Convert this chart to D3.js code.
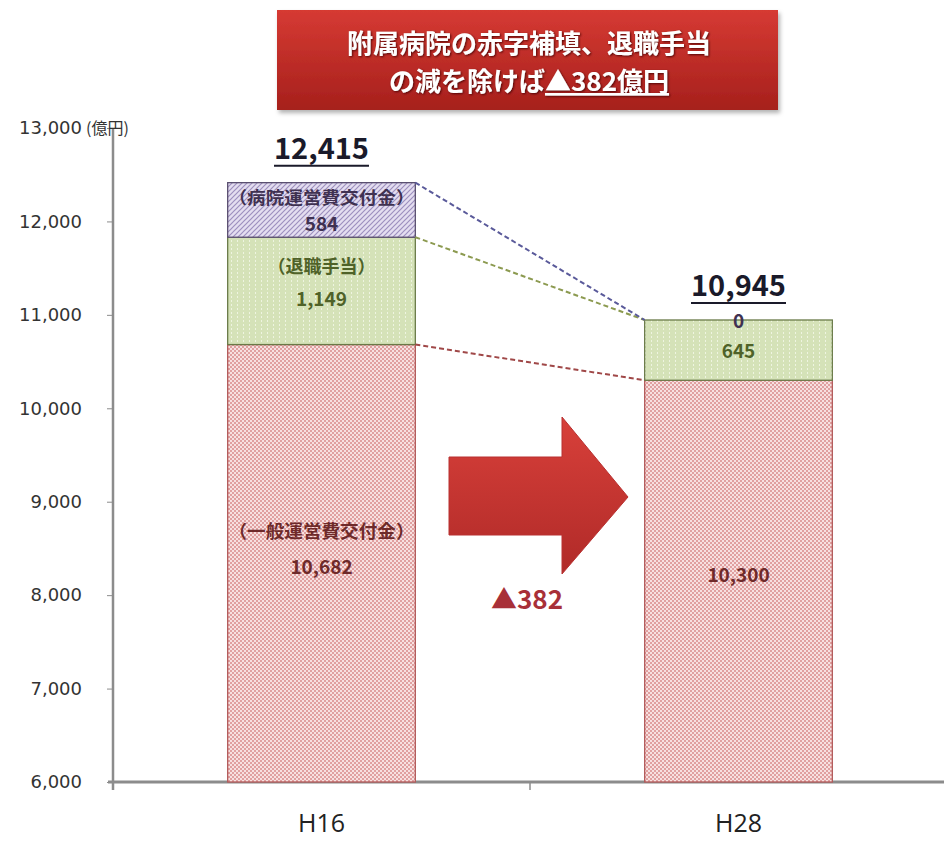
<!DOCTYPE html>
<html><head><meta charset="utf-8">
<script src="https://cdn.jsdelivr.net/npm/d3@7"></script>
<style>body{margin:0;background:#fff}svg{display:block}</style>
</head><body>
<script>
const categories = ["H16", "H28"];
const seriesNames = ["（一般運営費交付金）", "（退職手当）", "（病院運営費交付金）"];
const general = [10682, 10300];
const retirement = [1149, 645];
const hospital = [584, 0];
const totals = [12415, 10945];
const yTicks = [6000, 7000, 8000, 9000, 10000, 11000, 12000, 13000];
const unitLabel = "(億円)";
const titleLines = ["附属病院の赤字補填、退職手当", "の減を除けば", "▲382億円"];
const changeLabel = "▲382";

const W = 944, H = 841;
const svg = d3.select("body").append("svg").attr("width", W).attr("height", H);
const jp = "'Noto Sans CJK JP', 'Noto Sans', sans-serif";

const y = d3.scaleLinear().domain([6000, 13000]).range([782, 128]);
const x = d3.scaleBand().domain(categories).range([113, 947]).paddingInner(0).paddingOuter(0);
const barW = x.bandwidth() * 0.45;
const bx = c => x(c) + (x.bandwidth() - barW) / 2;

const defs = svg.append("defs");
const p1 = defs.append("pattern").attr("id", "pGen").attr("width", 4).attr("height", 4).attr("patternUnits", "userSpaceOnUse");
p1.append("rect").attr("width", 4).attr("height", 4).attr("fill", "#f7e0e0");
p1.append("rect").attr("x", 0).attr("y", 0).attr("width", 2).attr("height", 2).attr("fill", "#e0a0a0");
p1.append("rect").attr("x", 2).attr("y", 2).attr("width", 2).attr("height", 2).attr("fill", "#e0a0a0");
const p2 = defs.append("pattern").attr("id", "pRet").attr("width", 6).attr("height", 4).attr("patternUnits", "userSpaceOnUse");
p2.append("rect").attr("width", 6).attr("height", 4).attr("fill", "#d5e2b8");
p2.append("rect").attr("x", 3).attr("y", 0).attr("width", 1).attr("height", 2).attr("fill", "#eef4e0");
const p3 = defs.append("pattern").attr("id", "pHos").attr("width", 5).attr("height", 5).attr("patternUnits", "userSpaceOnUse");
p3.append("rect").attr("width", 5).attr("height", 5).attr("fill", "#e4def0");
p3.append("path").attr("d", "M-1,6 L6,-1 M-1,1 L1,-1 M4,6 L6,4").attr("stroke", "#9d8fbf").attr("stroke-width", 1.2);

const g1 = defs.append("linearGradient").attr("id", "gTitle").attr("x1", 0).attr("y1", 0).attr("x2", 0).attr("y2", 1);
g1.append("stop").attr("offset", "0%").attr("stop-color", "#d63a33");
g1.append("stop").attr("offset", "100%").attr("stop-color", "#a6201c");
const g2 = defs.append("linearGradient").attr("id", "gArrow").attr("x1", 0).attr("y1", 0).attr("x2", 0).attr("y2", 1);
g2.append("stop").attr("offset", "0%").attr("stop-color", "#d8403a");
g2.append("stop").attr("offset", "100%").attr("stop-color", "#b02a28");
const sh = defs.append("filter").attr("id", "shadow").attr("x", -0.1).attr("y", -0.1).attr("width", 1.2).attr("height", 1.3);
sh.append("feDropShadow").attr("dx", 2).attr("dy", 3).attr("stdDeviation", 2).attr("flood-color", "#000").attr("flood-opacity", 0.3);
const ts = defs.append("filter").attr("id", "tshadow");
ts.append("feDropShadow").attr("dx", 1).attr("dy", 1).attr("stdDeviation", 0.8).attr("flood-color", "#400").attr("flood-opacity", 0.9);

// title box
svg.append("rect").attr("x", 277).attr("y", 10).attr("width", 501).attr("height", 100)
  .attr("fill", "url(#gTitle)").attr("filter", "url(#shadow)");
const tt = svg.append("g").attr("font-family", jp).attr("font-weight", "bold").attr("font-size", 26)
  .attr("fill", "#fff").attr("text-anchor", "middle").attr("filter", "url(#tshadow)");
tt.append("text").attr("x", 529).attr("y", 53).text(titleLines[0]);
const t2 = tt.append("text").attr("x", 529).attr("y", 91);
t2.append("tspan").text(titleLines[1]);
t2.append("tspan").attr("text-decoration", "underline").text(titleLines[2]);

// axes
const yAxis = d3.axisLeft(y).tickValues(yTicks).tickSize(6).tickFormat(d3.format(","));
const ya = svg.append("g").attr("transform", "translate(113,0)").call(yAxis);
ya.select(".domain").attr("stroke", "#8c8c8c").attr("stroke-width", 2.5).attr("d", "M0,128V790");
ya.selectAll(".tick line").attr("stroke", "#8c8c8c");
ya.selectAll(".tick text").attr("font-family", "'DejaVu Sans', sans-serif").attr("font-size", 18).attr("fill", "#333").attr("x", -31);
svg.append("text").attr("x", 86).attr("y", 134).attr("font-family", jp).attr("font-size", 16).attr("fill", "#333").text(unitLabel);

const xAxis = d3.axisBottom(x).tickSize(0).tickPadding(32);
const xa = svg.append("g").attr("transform", "translate(0,782)").call(xAxis);
xa.select(".domain").attr("stroke", "#8c8c8c").attr("stroke-width", 3).attr("d", "M108,0H947");
xa.selectAll(".tick text").attr("font-family", "'Open Sans', sans-serif").attr("font-size", 25).attr("fill", "#222");
[113, x("H28"), 947].forEach(px => xa.append("line").attr("x1", px).attr("x2", px).attr("y1", 0).attr("y2", 8).attr("stroke", "#8c8c8c").attr("stroke-width", 1.5));

// bars
const segs = [];
categories.forEach((c, i) => {
  segs.push({c, i, k: 0, y0: 6000, y1: general[i], fill: "url(#pGen)", stroke: "#b35a5a"});
  segs.push({c, i, k: 1, y0: general[i], y1: general[i] + retirement[i], fill: "url(#pRet)", stroke: "#6a7a48"});
  segs.push({c, i, k: 2, y0: general[i] + retirement[i], y1: general[i] + retirement[i] + hospital[i], fill: "url(#pHos)", stroke: "#5a4f70"});
});
svg.append("g").selectAll("rect").data(segs.filter(s => s.y1 > s.y0)).join("rect")
  .attr("x", d => bx(d.c)).attr("width", barW)
  .attr("y", d => y(d.y1)).attr("height", d => y(d.y0) - y(d.y1))
  .attr("fill", d => d.fill).attr("stroke", d => d.stroke).attr("stroke-width", 1.3);

// connector dashed lines
const connColors = ["#a04848", "#8c9a50", "#5a5a9a"];
const cum0 = [general[0], general[0] + retirement[0], totals[0]];
const cum1 = [general[1], general[1] + retirement[1], totals[1]];
cum0.forEach((v, k) => {
  svg.append("line").attr("x1", bx("H16") + barW).attr("y1", y(v))
    .attr("x2", bx("H28")).attr("y2", y(cum1[k]))
    .attr("stroke", connColors[k]).attr("stroke-width", 2).attr("stroke-dasharray", "5,3");
});

// segment labels
const labColors = ["#6e2a2a", "#4f6228", "#3f3151"];
const lab = svg.append("g").attr("font-family", jp).attr("font-weight", "bold").attr("text-anchor", "middle");
const fmt = d3.format(",");
const cx0 = bx("H16") + barW / 2, cx1 = bx("H28") + barW / 2;
const m0 = (6000 + general[0]) / 2;
lab.append("text").attr("x", cx0).attr("y", y(m0) - 25).attr("font-size", 18).attr("fill", labColors[0]).attr("textLength", 186).attr("lengthAdjust", "spacingAndGlyphs").text(seriesNames[0]);
lab.append("text").attr("x", cx0).attr("y", y(m0) + 11).attr("font-size", 19).attr("fill", labColors[0]).text(fmt(general[0]));
const m1 = general[0] + retirement[0] / 2;
lab.append("text").attr("x", cx0).attr("y", y(m1) - 18).attr("font-size", 18).attr("fill", labColors[1]).text(seriesNames[1]);
lab.append("text").attr("x", cx0).attr("y", y(m1) + 15).attr("font-size", 19).attr("fill", labColors[1]).text(fmt(retirement[0]));
const m2 = general[0] + retirement[0] + hospital[0] / 2;
lab.append("text").attr("x", cx0).attr("y", y(m2) - 6).attr("font-size", 17).attr("fill", labColors[2]).attr("textLength", 186).attr("lengthAdjust", "spacingAndGlyphs").text(seriesNames[2]);
lab.append("text").attr("x", cx0).attr("y", y(m2) + 21).attr("font-size", 19).attr("fill", labColors[2]).text(fmt(hospital[0]));
lab.append("text").attr("x", cx1).attr("y", y((6000 + general[1]) / 2) + 1).attr("font-size", 19).attr("fill", labColors[0]).text(fmt(general[1]));
lab.append("text").attr("x", cx1).attr("y", y(general[1] + retirement[1] / 2) + 8).attr("font-size", 19).attr("fill", labColors[1]).text(fmt(retirement[1]));
lab.append("text").attr("x", cx1).attr("y", y(totals[1]) + 8).attr("font-size", 19).attr("fill", labColors[2]).text(fmt(hospital[1]));

// totals
categories.forEach((c, i) => {
  const cx = bx(c) + barW / 2;
  const t = svg.append("text").attr("x", cx).attr("y", y(totals[i]) - 24)
    .attr("font-family", jp).attr("font-weight", "bold").attr("font-size", 29)
    .attr("fill", "#1a1a2a").attr("text-anchor", "middle").text(fmt(totals[i]));
  const bb = t.node().getBBox();
  svg.append("line").attr("x1", bb.x).attr("x2", bb.x + bb.width).attr("y1", y(totals[i]) - 17).attr("y2", y(totals[i]) - 17)
    .attr("stroke", "#1a1a2a").attr("stroke-width", 2);
});

// arrow
const ax0 = 449, ax1 = 562, axT = 628, ayc = 497;
svg.append("path")
  .attr("d", `M${ax0},${ayc - 40}H${ax1}V${ayc - 80}L${axT},${ayc}L${ax1},${ayc + 77}V${ayc + 38}H${ax0}Z`)
  .attr("fill", "url(#gArrow)").attr("stroke", "#b83030").attr("stroke-width", 1);
svg.append("text").attr("x", 527).attr("y", 609).attr("font-family", jp).attr("font-weight", "bold")
  .attr("font-size", 26).attr("fill", "#a83038").attr("text-anchor", "middle").text(changeLabel);
</script>
</body></html>
